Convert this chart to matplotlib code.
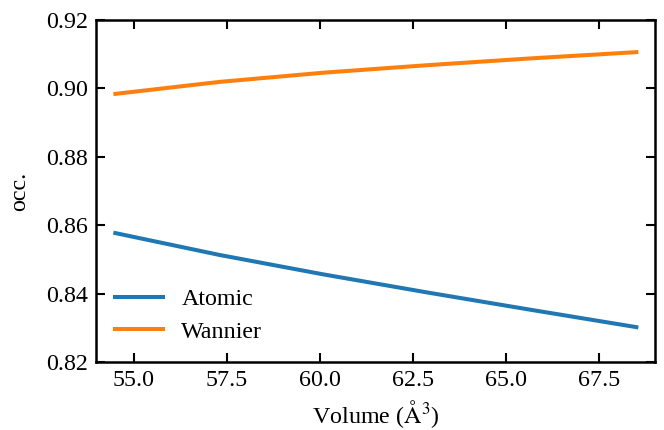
import matplotlib
matplotlib.use('Agg')
import matplotlib.pyplot as plt

# data
volume = [54.5, 57.3, 60.1, 62.9, 65.7, 68.5]
atomic = [0.8577, 0.8513, 0.8456, 0.8403, 0.8352, 0.8302]
wannier = [0.8984, 0.9019, 0.9046, 0.9068, 0.9088, 0.9106]

plt.rcParams['font.family'] = ['Liberation Serif', 'DejaVu Serif']
plt.rcParams['mathtext.fontset'] = 'stix'
fs = 17.3
plt.rcParams['font.size'] = fs

fig = plt.figure(figsize=(6.64, 4.3), dpi=100)
ax = fig.add_axes([0.1446, 0.1581, 0.8418, 0.7954])

ax.plot(volume, atomic, color='tab:blue', lw=2.9, label='Atomic')
ax.plot(volume, wannier, color='tab:orange', lw=2.9, label='Wannier')

ax.set_xlim(53.98, 69.0)
ax.set_ylim(0.82, 0.92)
ax.set_xticks([55.0, 57.5, 60.0, 62.5, 65.0, 67.5])
ax.set_yticks([0.82, 0.84, 0.86, 0.88, 0.90, 0.92])
ax.set_xticklabels(['55.0', '57.5', '60.0', '62.5', '65.0', '67.5'])
ax.set_yticklabels(['0.82', '0.84', '0.86', '0.88', '0.90', '0.92'])

ax.tick_params(direction='in', top=True, right=True, length=6.5, width=1.5, labelsize=fs, pad=6)
for s in ax.spines.values():
    s.set_linewidth(1.8)

ax.set_xlabel(r'Volume ($\mathrm{\AA}^3$)', fontsize=fs, labelpad=5)
ax.set_ylabel('occ.', fontsize=fs, labelpad=11)
ax.legend(loc='lower left', frameon=False, handlelength=2.0, fontsize=fs,
          borderaxespad=0.4, labelspacing=0.45, handletextpad=0.75)

fig.savefig('out.png', dpi=100)
